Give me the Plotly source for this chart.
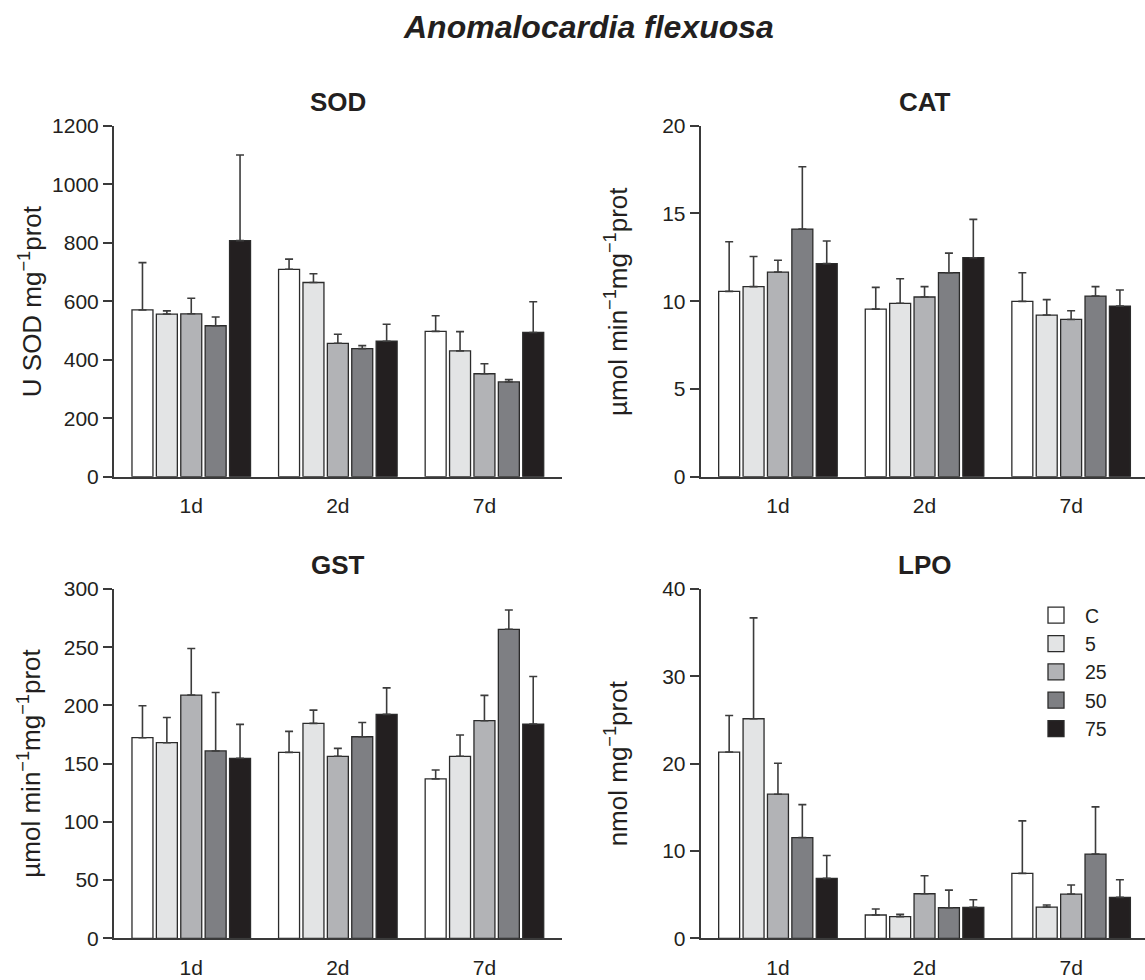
import plotly.graph_objects as go

# ---------------- data ----------------
days = ["1d", "2d", "7d"]
groups = ["C", "5", "25", "50", "75"]
colors = ["#ffffff", "#e3e4e5", "#b2b3b6", "#7e7f83", "#231f20"]

# rows = groups (C, 5, 25, 50, 75); columns = days (1d, 2d, 7d)
sod_mean = [[570, 709, 497], [556, 664, 430], [557, 456, 352], [516, 438, 324], [807, 463, 493]]
sod_err = [[162, 35, 53], [11, 30, 66], [53, 31, 34], [30, 10, 8], [293, 58, 105]]

cat_mean = [[10.56, 9.55, 9.99], [10.83, 9.88, 9.21], [11.66, 10.24, 8.96], [14.11, 11.62, 10.29], [12.14, 12.48, 9.72]]
cat_err = [[2.83, 1.24, 1.63], [1.72, 1.40, 0.88], [0.67, 0.59, 0.50], [3.55, 1.12, 0.54], [1.29, 2.18, 0.92]]

gst_mean = [[172.3, 159.7, 136.9], [168.0, 184.6, 156.3], [208.9, 156.3, 186.9], [160.9, 173.1, 265.4], [154.6, 192.3, 184.0]]
gst_err = [[27.4, 18.0, 7.7], [21.7, 11.4, 18.3], [40.0, 6.8, 21.7], [50.2, 12.3, 16.6], [29.1, 22.8, 40.9]]

lpo_mean = [[21.33, 2.67, 7.43], [25.14, 2.48, 3.58], [16.50, 5.10, 5.07], [11.54, 3.50, 9.64], [6.86, 3.54, 4.69]]
lpo_err = [[4.19, 0.68, 6.02], [11.55, 0.26, 0.23], [3.54, 2.06, 1.03], [3.77, 2.02, 5.41], [2.63, 0.88, 2.01]]

panel_titles = ["SOD", "CAT", "GST", "LPO"]
y_titles = ["U SOD mg<sup>−1</sup>prot",
            "µmol min<sup>−1</sup>mg<sup>−1</sup>prot",
            "µmol min<sup>−1</sup>mg<sup>−1</sup>prot",
            "nmol mg<sup>−1</sup>prot"]
y_ranges = [[0, 1200], [0, 20], [0, 300], [0, 40]]
y_dticks = [200, 5, 50, 10]

main_title = "Anomalocardia flexuosa"

# ---------------- layout constants ----------------
W, H = 1145, 980
FONT = "Liberation Sans, Arial, Helvetica, sans-serif"
TXT = "#231f20"
AX = "#3a3a3a"

def px_x(v):
    return v / W

def px_y(v):
    return 1 - v / H

x_dom_left = [px_x(114), px_x(561.7)]
x_dom_right = [px_x(700.7), 1.0]
y_dom_top = [px_y(476.7), px_y(125.7)]
y_dom_bot = [px_y(938.3), px_y(589)]

x_range_left = [-0.527, 2.527]
x_range_right = [-0.527, 2.504]

panels = [
    (sod_mean, sod_err, x_dom_left, y_dom_top, x_range_left),
    (cat_mean, cat_err, x_dom_right, y_dom_top, x_range_right),
    (gst_mean, gst_err, x_dom_left, y_dom_bot, x_range_left),
    (lpo_mean, lpo_err, x_dom_right, y_dom_bot, x_range_right),
]

fig = go.Figure()
layout = dict(
    width=W, height=H,
    margin=dict(l=0, r=0, t=0, b=0),
    paper_bgcolor="white", plot_bgcolor="white",
    barmode="group", bargap=0.168, bargroupgap=0.14,
    font=dict(family=FONT, color=TXT, size=21),
    template="none",
    showlegend=True,
)

annotations = []
for i, (means, errs, xd, yd, xr) in enumerate(panels):
    n = "" if i == 0 else str(i + 1)
    for g in range(len(groups)):
        fig.add_trace(go.Bar(
            x=days, y=means[g], name=groups[g],
            xaxis="x" + n, yaxis="y" + n,
            marker=dict(color=colors[g], line=dict(color="#2b2b2b", width=1.3)),
            error_y=dict(type="data", array=errs[g], arrayminus=[0] * len(days),
                         symmetric=False, color="#3c3c3c", thickness=1.6, width=4),
            showlegend=False,
        ))
    layout["xaxis" + n] = dict(
        domain=xd, anchor="y" + n, range=xr, type="category",
        showline=True, linecolor=AX, linewidth=2,
        ticks="outside", ticklen=9, tickcolor="rgba(0,0,0,0)",
        showgrid=False, zeroline=False,
        tickfont=dict(size=21, family=FONT, color=TXT),
        automargin=False, fixedrange=True,
    )
    layout["yaxis" + n] = dict(
        domain=yd, anchor="x" + n, range=y_ranges[i], dtick=y_dticks[i],
        showline=True, linecolor=AX, linewidth=2,
        ticks="outside", ticklen=9, tickwidth=2, tickcolor=AX,
        showgrid=False, zeroline=False,
        tickfont=dict(size=21, family=FONT, color=TXT),
        automargin=False, fixedrange=True,
    )
    xc = (xd[0] + (px_x(1148.4) if xd[1] == 1.0 else xd[1])) / 2
    top_px = (1 - yd[1]) * H
    annotations.append(dict(
        text="<b>" + panel_titles[i] + "</b>", xref="paper", yref="paper",
        x=xc, y=px_y(top_px - 24), xanchor="center", yanchor="middle",
        showarrow=False, font=dict(size=26, family=FONT, color=TXT),
    ))
    ytitle_x = xd[0] - 84 / W
    annotations.append(dict(
        text=y_titles[i], xref="paper", yref="paper",
        x=ytitle_x, y=(yd[0] + yd[1]) / 2, xanchor="center", yanchor="middle",
        textangle=-90, showarrow=False, font=dict(size=26, family=FONT, color=TXT),
    ))

annotations.append(dict(
    text="<b><i>" + main_title + "</i></b>", xref="paper", yref="paper",
    x=px_x(588), y=px_y(27), xanchor="center", yanchor="middle",
    showarrow=False, font=dict(size=32, family=FONT, color=TXT),
))

# legend entries (square swatches)
for g in range(len(groups)):
    fig.add_trace(go.Scatter(
        x=[None], y=[None], name=groups[g], mode="markers",
        xaxis="x4", yaxis="y4",
        marker=dict(symbol="square", size=16, color=colors[g],
                    line=dict(color="#2b2b2b", width=1.3)),
        showlegend=True, hoverinfo="skip",
    ))

layout["annotations"] = annotations
layout["legend"] = dict(
    x=px_x(1027), y=px_y(596), xanchor="left", yanchor="top",
    bgcolor="rgba(0,0,0,0)", borderwidth=0,
    font=dict(size=19.5, family=FONT, color=TXT),
    tracegroupgap=0, itemwidth=48,
)
fig.update_layout(**layout)
fig.write_html("out.html")
